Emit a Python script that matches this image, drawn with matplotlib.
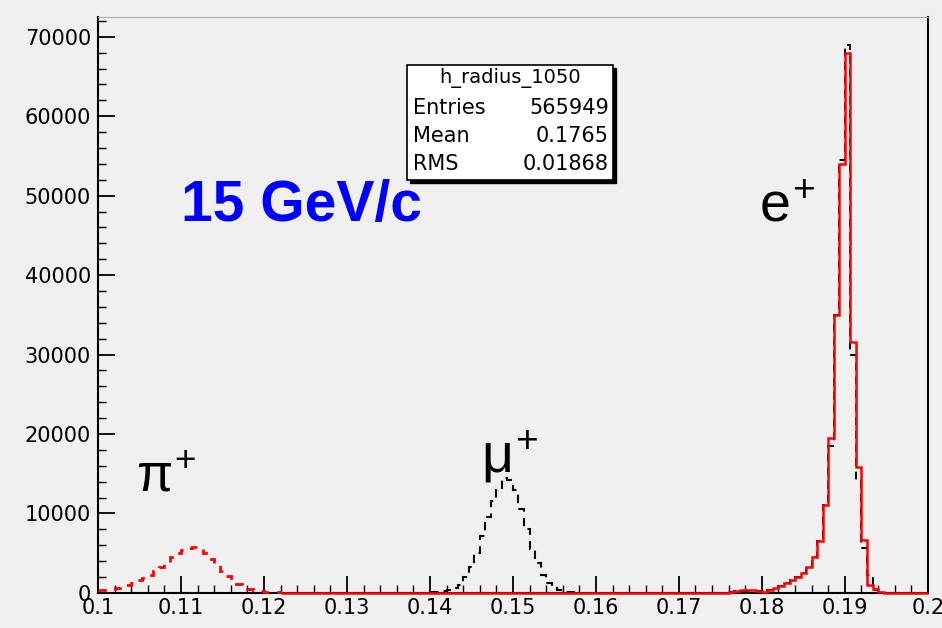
import numpy as np
import matplotlib
matplotlib.use("Agg")
import matplotlib.pyplot as plt
from matplotlib.patches import Rectangle

plt.rcParams["mathtext.fontset"] = "custom"
plt.rcParams["mathtext.rm"] = "Liberation Sans"
plt.rcParams["mathtext.it"] = "Liberation Sans"

# histogram binning: 150 bins on [0.1, 0.2]
xmin, xmax, nbins = 0.1, 0.2, 150

# pi+ (red dashed), bins 0..32
pi_first = 0
pi_counts = [300, 400, 500, 600, 800, 1000, 1300, 1600, 1900, 2300, 2700, 3200,
             3800, 4500, 5000, 5400, 5700, 5800, 5600, 5000, 4300, 3500, 2800,
             2100, 1500, 1100, 700, 450, 300, 200, 150, 100, 50]

# mu+ (black dashed), bins 60..86
mu_first = 60
mu_counts = [50, 100, 200, 300, 600, 1000, 2000, 3200, 5000, 7200, 9500, 11500,
             13000, 14500, 14200, 13000, 10500, 8000, 5500, 3800, 2200, 1200,
             600, 300, 100, 50, 0]

# e+ (red solid + black dashed copy), bins 110..142
e_first = 110
e_counts = [0, 0, 0, 0, 150, 250, 300, 300, 300, 250, 100, 400, 600, 900, 1200,
            1600, 2000, 2500, 3300, 4500, 6500, 11000, 19500, 35000, 54000,
            68000, 31600, 15900, 6700, 1000, 500, 150, 0]
e_black = [0, 0, 0, 0, 100, 200, 250, 250, 250, 200, 100, 400, 600, 900, 1200,
           1600, 2000, 2500, 3300, 4500, 6500, 11000, 18500, 35000, 54500,
           69000, 30000, 14200, 5700, 2200, 300, 100, 0]

stats_title = "h_radius_1050"
stats_names = ["Entries", "Mean", "RMS"]
stats_vals = ["565949", "0.1765", "0.01868"]

bw = (xmax - xmin) / nbins


def edges(first, n):
    return xmin + bw * np.arange(first, first + n + 1)


bg = "#f0f0f0"
fig = plt.figure(figsize=(9.42, 6.28), dpi=100, facecolor=bg)
ax = fig.add_axes([0.104, 0.056, 0.881, 0.917], facecolor=bg)

# e+ drawn over the full range from 0.122 (bin 33) with zeros
e_full = np.zeros(nbins - 33)
e_full[e_first - 33:e_first - 33 + len(e_counts)] = e_counts
eb_full = np.zeros(nbins - 33)
eb_full[e_first - 33:e_first - 33 + len(e_black)] = e_black

ax.stairs(eb_full, edges(33, len(eb_full)), color="black", lw=1.4,
          linestyle=(0, (4, 3)), baseline=None, zorder=3, clip_on=False)
ax.stairs(e_full, edges(33, len(e_full)), color="red", lw=1.8,
          baseline=None, zorder=4, clip_on=False)
ax.stairs(mu_counts, edges(mu_first, len(mu_counts)), color="black", lw=1.5,
          linestyle=(0, (4, 3)), baseline=None, zorder=3, clip_on=False)
ax.stairs(pi_counts, edges(pi_first, len(pi_counts)), color="red", lw=2.0,
          linestyle=(0, (3, 3)), baseline=None, zorder=4, clip_on=False)

ax.set_xlim(xmin, xmax)
ax.set_ylim(0, 72500)
ax.set_xticks(np.arange(0.1, 0.2001, 0.01))
ax.set_xticklabels(["0.1", "0.11", "0.12", "0.13", "0.14", "0.15", "0.16",
                    "0.17", "0.18", "0.19", "0.2"])
ax.set_xticks(np.arange(0.1, 0.2001, 0.002), minor=True)
ax.set_yticks(np.arange(0, 70001, 10000))
ax.set_yticks(np.arange(0, 72001, 2000), minor=True)
ax.tick_params(which="major", direction="in", length=12, width=1.3,
               labelsize=15, pad=5)
ax.tick_params(which="minor", direction="in", length=6, width=1.0)
ax.tick_params(axis="x", pad=4)
for s in ["left", "bottom", "right"]:
    ax.spines[s].set_color("black")
    ax.spines[s].set_linewidth(1.5)
ax.spines["top"].set_color("#aaaaaa")

# annotations
ax.text(0.1100, 46800, "15 GeV/c", color="#0000ff", fontsize=41,
        fontweight="bold", family="Liberation Sans", va="baseline")
ax.text(0.1046, 12700, r"$\pi^{+}$", fontsize=38, va="baseline")
ax.text(0.1462, 15100, r"$\mu^{+}$", fontsize=40, va="baseline")
ax.text(0.1797, 46800, r"$e^{+}$", fontsize=40, va="baseline")

# stats box (figure pixel layout)
W, H = 942, 628
x0, x1, y0, y1 = 407, 613, 65, 180
fig.add_artist(Rectangle(((x0 + 3) / W, 1 - (y1 + 3) / H), (x1 - x0) / W,
                         (y1 - y0) / H, transform=fig.transFigure,
                         facecolor="black", edgecolor="black"))
fig.add_artist(Rectangle((x0 / W, 1 - y1 / H), (x1 - x0) / W, (y1 - y0) / H,
                         transform=fig.transFigure, facecolor="white",
                         edgecolor="black", lw=1.2))
fig.text((x0 + x1) / 2 / W, 1 - 78 / H, stats_title, ha="center",
         va="center", fontsize=14)
for i, (n, v) in enumerate(zip(stats_names, stats_vals)):
    yy = 1 - (108 + i * 28) / H
    fig.text((x0 + 6) / W, yy, n, ha="left", va="center", fontsize=15)
    fig.text((x1 - 4) / W, yy, v, ha="right", va="center", fontsize=15)

fig.savefig("out.png", dpi=100, facecolor=bg)
